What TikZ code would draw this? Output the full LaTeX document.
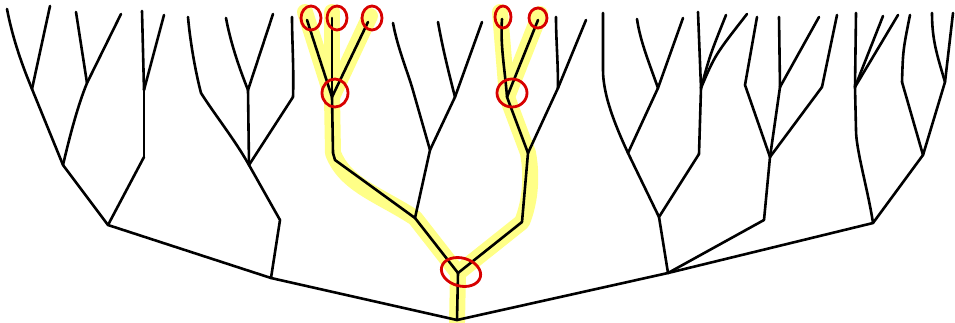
\documentclass[tikz,border=0pt]{standalone}
\definecolor{hlyellow}{RGB}{255,255,135}
\definecolor{ringred}{RGB}{215,0,0}
\begin{document}
\begin{tikzpicture}[x=1pt,y=-1pt,
  br/.style={line width=2.6pt, line cap=round, line join=round},
  hl/.style={draw=hlyellow, line width=16pt, line cap=round, line join=round},
  ring/.style={draw=ringred, line width=2.8pt}]
\useasboundingbox (0,0) rectangle (955,322);

% ---------- branch points ----------
\coordinate (R) at (457,320);
\coordinate (S) at (458,273);
% left part
\coordinate (D) at (271,278);
\coordinate (A) at (108,225);
\coordinate (E) at (280,220);
\coordinate (B) at (63,165);
\coordinate (C) at (144,157);
\coordinate (F) at (249,165);
\coordinate (G) at (32,89);
\coordinate (H) at (87,83);
\coordinate (C2) at (144,90);
\coordinate (F1) at (201,93);
\coordinate (F2) at (248,90);
\coordinate (F3) at (293,97);
% middle part
\coordinate (T) at (415,218);
\coordinate (U) at (522,222);
\coordinate (V) at (333,153);
\coordinate (W) at (430,150);
\coordinate (X) at (332,97);
\coordinate (W1) at (412,87);
\coordinate (W2) at (455,97);
\coordinate (Y) at (528,153);
\coordinate (Z) at (507,97);
\coordinate (Y2) at (558,88);
% right part
\coordinate (M) at (668,273);
\coordinate (N) at (659,217);
\coordinate (O) at (764,220);
\coordinate (P) at (873,223);
\coordinate (Q) at (628,153);
\coordinate (Q2) at (658,88);
\coordinate (N2) at (699,154);
\coordinate (N3) at (701,88);
\coordinate (O1) at (770,157);
\coordinate (O1a) at (745,85);
\coordinate (O1b) at (780,87);
\coordinate (O1c) at (822,87);
\coordinate (P1) at (855,87);
\coordinate (P2) at (923,155);
\coordinate (P2a) at (902,82);
\coordinate (P2b) at (945,82);

% ---------- leaf tips ----------
\coordinate (g1) at (7,9);    \coordinate (g2) at (50,6);
\coordinate (h1) at (76,12);  \coordinate (h2) at (121,14);
\coordinate (c1) at (142,11); \coordinate (c2) at (164,15);
\coordinate (f1) at (188,17);
\coordinate (f2) at (226,18); \coordinate (f3) at (273,14);
\coordinate (f4) at (292,17);
\coordinate (x1) at (307,20); \coordinate (x2) at (332,18); \coordinate (x3) at (368,22);
\coordinate (w1) at (393,23);
\coordinate (w2) at (438,22); \coordinate (w3) at (482,22);
\coordinate (z1) at (502,19); \coordinate (z2) at (538,20);
\coordinate (y1) at (556,17); \coordinate (y2) at (586,20);
\coordinate (q1) at (603,13);
\coordinate (q2) at (637,19); \coordinate (q3) at (683,18);
\coordinate (n1) at (698,12); \coordinate (n2) at (726,15); \coordinate (n3) at (747,14);
\coordinate (o1) at (757,17);
\coordinate (o2) at (779,17); \coordinate (o3) at (819,17);
\coordinate (o4) at (837,15);
\coordinate (p1) at (856,13); \coordinate (p2) at (883,16); \coordinate (p3) at (898,15);
\coordinate (p4) at (910,15);
\coordinate (p5) at (932,13); \coordinate (p6) at (953,13);

% ---------- highlighted lineage ----------
\draw[hl] (305,12) -- (X);
\draw[hl] (332,12) -- (X);
\draw[hl] (370,16) -- (X);
\draw[hl] (X) -- (V) .. controls (345,185) and (380,195) .. (T) -- (S) -- (457,322);
\draw[hl] (500,12) -- (Z);
\draw[hl] (540,14) -- (Z);
\draw[hl] (Z) -- (Y) .. controls (533,180) and (529,205) .. (U) -- (S);

% ---------- tree ----------
\draw[br] (R) -- (S);
\draw[br] (R) -- (D) -- (A);
\draw[br] (R) -- (M);
\draw[br] (D) -- (E) -- (F);
\draw[br] (A) -- (B);
\draw[br] (A) -- (C);
\draw[br] (B) -- (G);
\draw[br] (B) .. controls (70,135) and (78,105) .. (H);
\draw[br] (C) -- (C2);
\draw[br] (G) .. controls (20,60) and (12,35) .. (g1);
\draw[br] (G) -- (g2);
\draw[br] (H) -- (h1);
\draw[br] (H) -- (h2);
\draw[br] (C2) -- (c1);
\draw[br] (C2) -- (c2);
\draw[br] (F) .. controls (235,140) and (215,115) .. (F1);
\draw[br] (F) -- (F2);
\draw[br] (F) -- (F3);
\draw[br] (F1) .. controls (195,70) and (190,40) .. (f1);
\draw[br] (F2) .. controls (238,65) and (230,40) .. (f2);
\draw[br] (F2) -- (f3);
\draw[br] (F3) .. controls (294,70) and (292,40) .. (f4);

\draw[br] (S) -- (T);
\draw[br] (S) -- (U);
\draw[br] (T) -- (335,160) -- (V);
\draw[br] (T) -- (W);
\draw[br] (V) -- (X);
\draw[br] (X) -- (x1);
\draw[br] (X) -- (x2);
\draw[br] (X) -- (x3);
\draw[br] (W) -- (W1);
\draw[br] (W) -- (W2);
\draw[br] (W1) .. controls (405,65) and (397,45) .. (w1);
\draw[br] (W2) .. controls (448,70) and (442,45) .. (w2);
\draw[br] (W2) -- (w3);
\draw[br] (U) -- (Y);
\draw[br] (Y) -- (Z);
\draw[br] (Y) -- (Y2);
\draw[br] (Z) .. controls (505,70) and (500,45) .. (z1);
\draw[br] (Z) -- (z2);
\draw[br] (Y2) .. controls (558,60) and (556,40) .. (y1);
\draw[br] (Y2) -- (y2);

\draw[br] (M) -- (N);
\draw[br] (M) -- (O);
\draw[br] (M) -- (P);
\draw[br] (N) -- (Q);
\draw[br] (N) -- (N2);
\draw[br] (Q) .. controls (615,125) and (603,95) .. (603,70) -- (q1);
\draw[br] (Q) -- (Q2);
\draw[br] (Q2) .. controls (648,60) and (640,40) .. (q2);
\draw[br] (Q2) -- (q3);
\draw[br] (N2) -- (N3);
\draw[br] (N3) -- (n1);
\draw[br] (N3) .. controls (710,55) .. (n2);
\draw[br] (N3) .. controls (715,55) .. (n3);
\draw[br] (O) -- (O1);
\draw[br] (O1) -- (O1a) -- (o1);
\draw[br] (O1) -- (O1b);
\draw[br] (O1) -- (O1c);
\draw[br] (O1b) -- (o2);
\draw[br] (O1b) -- (o3);
\draw[br] (O1c) -- (o4);
\draw[br] (P) .. controls (868,190) and (856,150) .. (856,130) -- (P1);
\draw[br] (P) -- (P2);
\draw[br] (P1) -- (p1);
\draw[br] (P1) -- (p2);
\draw[br] (P1) -- (p3);
\draw[br] (P2) -- (P2a);
\draw[br] (P2) -- (P2b);
\draw[br] (P2a) .. controls (903,50) .. (p4);
\draw[br] (P2b) .. controls (937,55) and (932,40) .. (p5);
\draw[br] (P2b) -- (p6);

% ---------- marked nodes ----------
\draw[ring] (311,18) ellipse [x radius=10, y radius=12];
\draw[ring] (337,18) ellipse [x radius=10, y radius=12];
\draw[ring] (372,18) ellipse [x radius=10, y radius=12];
\draw[ring] (335,93) ellipse [x radius=13, y radius=14];
\draw[ring] (503,17) ellipse [x radius=8, y radius=11];
\draw[ring] (538,18) ellipse [x radius=9, y radius=10];
\draw[ring] (512,93) ellipse [x radius=15, y radius=14];
\draw[ring, rotate around={-15:(461,272)}] (461,272) ellipse [x radius=20, y radius=14];
\end{tikzpicture}
\end{document}
